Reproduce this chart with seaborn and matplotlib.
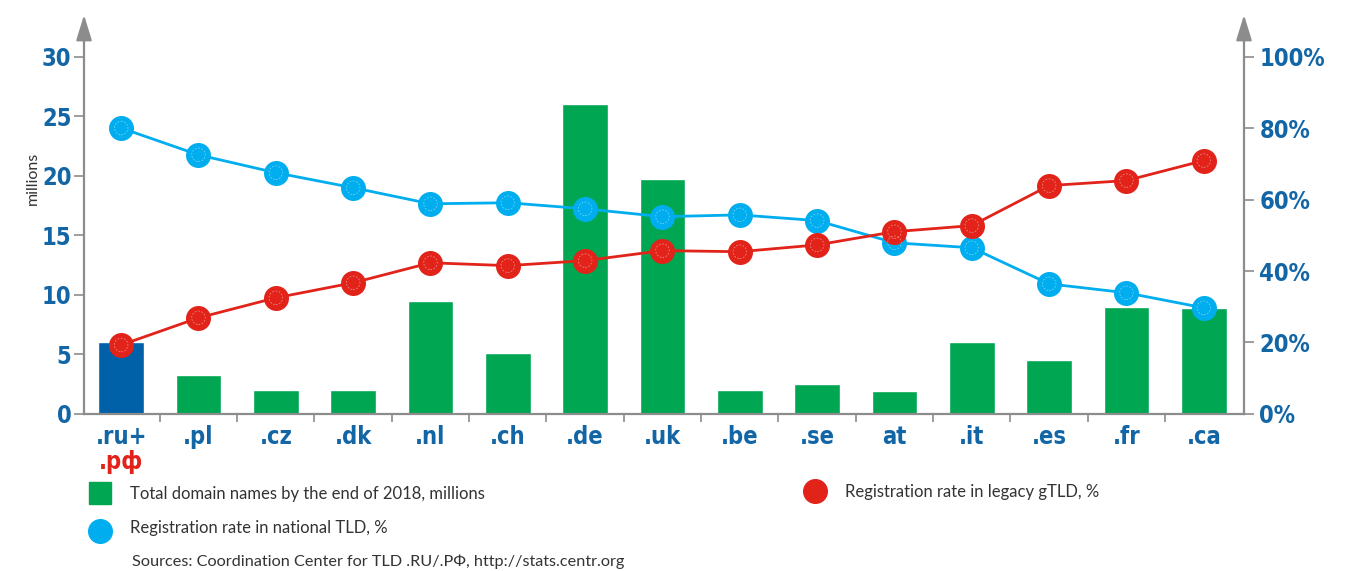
import numpy as np
import pandas as pd
import matplotlib
matplotlib.use("Agg")
import matplotlib.pyplot as plt
from matplotlib.ticker import FixedLocator
from matplotlib.lines import Line2D
import seaborn as sns

# ---------------------------------------------------------------------
# DATA
# ---------------------------------------------------------------------
zones = [".ru+", ".pl", ".cz", ".dk", ".nl", ".ch", ".de", ".uk",
         ".be", ".se", "at", ".it", ".es", ".fr", ".ca"]
domains_mln = [6.0, 3.3, 2.0, 2.0, 9.5, 5.1, 26.0, 19.7,
               2.0, 2.5, 1.9, 6.0, 4.5, 9.0, 8.9]
national_pct = [80.0, 72.5, 67.5, 63.3, 58.8, 59.1, 57.4, 55.2,
                55.7, 54.1, 47.9, 46.5, 36.4, 33.9, 29.7]
legacy_pct = [19.3, 26.9, 32.5, 36.7, 42.3, 41.5, 42.9, 45.7,
              45.4, 47.3, 51.0, 52.7, 63.9, 65.3, 70.9]
left_ticks = [0, 5, 10, 15, 20, 25, 30]
right_ticks = [0, 20, 40, 60, 80, 100]

GREEN = "#00a651"
DARK_BLUE = "#0060a8"
LIGHT_BLUE = "#00aeef"
RED = "#e2231a"
TICK_BLUE = "#1366a6"
AXIS_GRAY = "#8c8c8c"
TEXT_GRAY = "#333333"

BOLD_FONT = ["DejaVu Sans"]
TEXT_FONT = ["Lato", "DejaVu Sans"]

sns.set_theme(style="white")
plt.rcParams["font.family"] = TEXT_FONT

df = pd.DataFrame({"zone": zones, "domains": domains_mln,
                   "national": national_pct, "legacy": legacy_pct})
df["idx"] = np.arange(len(df))

fig = plt.figure(figsize=(13.51, 5.71), dpi=100)
ax = fig.add_axes([0.0622, 0.275, 0.8586, 0.699])

bar_colors = [DARK_BLUE] + [GREEN] * (len(zones) - 1)
sns.barplot(data=df, x="zone", y="domains", hue="zone", palette=bar_colors,
            legend=False, width=0.59, saturation=1, ax=ax, zorder=2)

ax.set_xlim(-0.48, 14.52)
ax.set_ylim(0, 33.5)
ax.set_yticks(left_ticks)
ax.set_xlabel("")
ax.set_ylabel("millions", fontsize=11.5, color=TEXT_GRAY)
ax.yaxis.set_label_coords(-0.038, 0.59)

ax2 = ax.twinx()
ax2.set_ylim(0, 33.5 / 30 * 100)
ax2.set_yticks(right_ticks)
ax2.set_yticklabels([f"{t}%" for t in right_ticks])

for col, color in [("national", LIGHT_BLUE), ("legacy", RED)]:
    sns.lineplot(data=df, x="idx", y=col, ax=ax2, color=color, lw=2,
                 marker="o", markersize=18, markeredgewidth=0, zorder=3)
    # faint inner ring on the markers
    ax2.scatter(df["idx"], df[col], s=95, facecolors="none",
                edgecolors="white", linewidths=0.6, alpha=0.45,
                linestyle=(0, (2, 2)), zorder=4)
ax2.set_xlim(-0.48, 14.52)
ax2.set_ylabel("")

# spines and ticks
for a in (ax, ax2):
    for s in a.spines.values():
        s.set_visible(False)
ax.spines["left"].set_visible(True)
ax.spines["bottom"].set_visible(True)
ax2.spines["right"].set_visible(True)
for s in (ax.spines["left"], ax.spines["bottom"], ax2.spines["right"]):
    s.set_color(AXIS_GRAY)
    s.set_linewidth(1.6)
ax.spines["left"].set_bounds(0, 32.2)
ax2.spines["right"].set_bounds(0, 32.2 / 30 * 100)

ax.tick_params(axis="y", which="major", direction="out", length=7, width=1.2,
               color=AXIS_GRAY, left=True, pad=2, labelsize=17,
               labelcolor=TICK_BLUE)
ax2.tick_params(axis="y", which="major", direction="out", length=7, width=1.2,
                color=AXIS_GRAY, right=True, pad=4, labelsize=17,
                labelcolor=TICK_BLUE)
ax.xaxis.set_minor_locator(FixedLocator(np.arange(0.5, 14.0, 1.0)))
ax.tick_params(axis="x", which="major", length=0, pad=8, labelsize=17,
               labelcolor=TICK_BLUE)
ax.tick_params(axis="x", which="minor", direction="out", length=6, width=1.2,
               color=AXIS_GRAY, bottom=True)
for lab in ax.get_xticklabels() + ax.get_yticklabels() + ax2.get_yticklabels():
    lab.set_fontfamily(BOLD_FONT)
    lab.set_fontweight("bold")
    lab.set_fontstretch("condensed")

# arrow heads on the vertical axes
for xa in (0, 1):
    ax.annotate("", xy=(xa, 1.0), xytext=(xa, 0.95), xycoords="axes fraction",
                arrowprops=dict(arrowstyle="-|>,head_length=1.3,head_width=0.4",
                                color=AXIS_GRAY, lw=1.6, shrinkA=0, shrinkB=0))

# second line of the first category label
ax.text(0, -0.12, ".рф", transform=ax.get_xaxis_transform(), ha="center",
        va="center", color=RED, fontsize=17, fontweight="bold",
        fontstretch="condensed", family=BOLD_FONT)

# custom legend at the bottom
fig.add_artist(Line2D([100 / 1351], [1 - 493 / 571], marker="s", markersize=16,
                      color=GREEN, transform=fig.transFigure, lw=0))
fig.add_artist(Line2D([100 / 1351], [1 - 531 / 571], marker="o", markersize=17,
                      color=LIGHT_BLUE, transform=fig.transFigure, lw=0))
fig.add_artist(Line2D([815 / 1351], [1 - 491 / 571], marker="o", markersize=17,
                      color=RED, transform=fig.transFigure, lw=0))
fig.text(130 / 1351, 1 - 494 / 571, "Total domain names by the end of 2018, millions",
         fontsize=12, color=TEXT_GRAY, va="center")
fig.text(130 / 1351, 1 - 528 / 571, "Registration rate in national TLD, %",
         fontsize=12, color=TEXT_GRAY, va="center")
fig.text(845 / 1351, 1 - 492 / 571, "Registration rate in legacy gTLD, %",
         fontsize=12, color=TEXT_GRAY, va="center")
fig.text(132 / 1351, 1 - 562 / 571,
         "Sources: Coordination Center for TLD .RU/.РФ, http://stats.centr.org",
         fontsize=11.7, color=TEXT_GRAY, va="center")

fig.savefig("out.png", dpi=100)
